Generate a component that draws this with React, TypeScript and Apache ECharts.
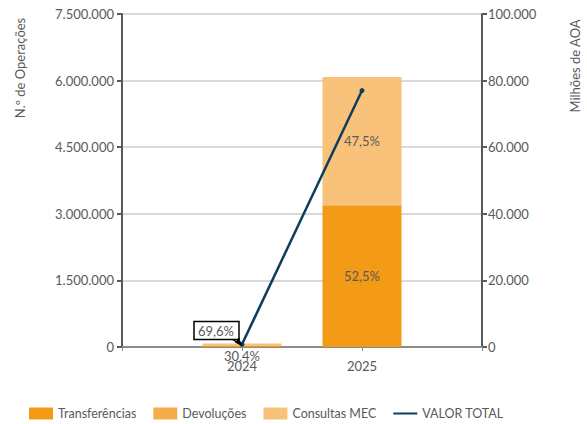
import React, { useEffect, useRef } from "react";
import * as echarts from "echarts";

const categories = ["", "2024", "2025", ""];
const transferencias = [null, 24000, 3190000, null];
const devolucoes = [null, 0, 0, null];
const consultasMEC = [null, 55000, 2890000, null];
const valorTotal = [null, 800, 77000, null];
const pctTransferencias = ["", "30,4%", "52,5%", ""];
const pctConsultas = ["", "69,6%", "47,5%", ""];

const FONT = "Lato";
const TXT = "#595959";

const fmt = (v: number) => String(Math.round(v)).replace(/\B(?=(\d{3})+(?!\d))/g, ".");

export default function App() {
  const ref = useRef<HTMLDivElement>(null);
  useEffect(() => {
    const chart = echarts.init(ref.current!, null, { renderer: "svg" });
    const option: any = {
      animation: false,
      textStyle: { fontFamily: FONT, color: TXT },
      grid: { left: 122, right: 105, top: 14, bottom: 77 },
      legend: {
        left: 24,
        top: 402,
        itemGap: 17,
        itemWidth: 24,
        itemHeight: 12,
        textStyle: { fontFamily: FONT, fontSize: 12.5, color: TXT },
        data: [
          { name: "Transferências", icon: "rect" },
          { name: "Devoluções", icon: "rect" },
          { name: "Consultas MEC", icon: "rect" },
          { name: "VALOR TOTAL", icon: "path://M0 0 H24 V2 H0 Z" },
        ],
      },
      xAxis: {
        type: "category",
        data: categories,
        boundaryGap: false,
        axisLine: { lineStyle: { color: "#8c8c8c", width: 2 } },
        axisTick: { show: true, length: 4, lineStyle: { color: "#8c8c8c" } },
        axisLabel: { fontFamily: FONT, fontSize: 13, color: TXT, margin: 12 },
        splitLine: { show: false },
      },
      yAxis: [
        {
          type: "value",
          min: 0,
          max: 7500000,
          interval: 1500000,
          axisLine: { show: true, lineStyle: { color: "#595959", width: 2 } },
          axisTick: { show: true, length: 5, lineStyle: { color: "#595959", width: 2 } },
          axisLabel: { fontFamily: FONT, fontSize: 13, color: TXT, margin: 8, formatter: fmt },
          splitLine: { lineStyle: { color: "#d9d9d9", width: 2 } },
        },
        {
          type: "value",
          min: 0,
          max: 100000,
          interval: 20000,
          position: "right",
          axisLine: { show: true, lineStyle: { color: "#595959", width: 2 } },
          axisTick: { show: true, length: 5, lineStyle: { color: "#595959", width: 2 } },
          axisLabel: { fontFamily: FONT, fontSize: 13, color: TXT, margin: 6, formatter: fmt },
          splitLine: { show: false },
        },
      ],
      series: [
        {
          name: "Transferências",
          type: "bar",
          stack: "a",
          barWidth: 79,
          data: transferencias,
          itemStyle: { color: "#F39A17" },
          label: {
            show: true,
            position: "inside",
            fontFamily: FONT,
            fontSize: 13,
            color: TXT,
            formatter: (p: any) => pctTransferencias[p.dataIndex],
          },
          labelLayout: (p: any) => (p.dataIndex === 1 ? { dy: 10 } : {}),
        },
        {
          name: "Devoluções",
          type: "bar",
          stack: "a",
          barWidth: 79,
          data: devolucoes,
          itemStyle: { color: "#F5AC4B" },
        },
        {
          name: "Consultas MEC",
          type: "bar",
          stack: "a",
          barWidth: 79,
          data: consultasMEC,
          itemStyle: { color: "#F9C27B" },
          label: {
            show: true,
            position: "inside",
            fontFamily: FONT,
            fontSize: 13,
            color: TXT,
            formatter: (p: any) => pctConsultas[p.dataIndex],
          },
          labelLayout: (p: any) =>
            p.dataIndex === 1 ? { dx: -26, dy: -14 } : {},
        },
        {
          name: "VALOR TOTAL",
          type: "line",
          yAxisIndex: 1,
          data: valorTotal,
          symbol: "circle",
          symbolSize: 5,
          showSymbol: true,
          lineStyle: { color: "#0E3D5C", width: 2.5 },
          itemStyle: { color: "#0E3D5C" },
          z: 5,
        },
      ],
    };
    chart.setOption(option);

    const barTop = chart.convertToPixel({ xAxisIndex: 0, yAxisIndex: 0 }, [1, transferencias[1]! + consultasMEC[1]!]);
    const bx = barTop[0];
    const by = barTop[1];
    chart.setOption({
      graphic: [
        {
          type: "rect",
          shape: { x: bx - 48, y: by - 22, width: 45, height: 18 },
          style: { fill: "none", stroke: "#000", lineWidth: 1.5 },
          z: 10,
        },
        {
          type: "line",
          shape: { x1: bx - 9, y1: by - 4, x2: bx - 2, y2: by + 1 },
          style: { stroke: "#000", lineWidth: 1.5 },
          z: 10,
        },
        {
          type: "polygon",
          shape: { points: [[bx, by + 2], [bx - 7, by - 1], [bx - 3, by - 6]] },
          style: { fill: "#000" },
          z: 10,
        },
        {
          type: "text",
          x: 20,
          y: 68,
          rotation: Math.PI / 2,
          style: {
            text: "N.º de Operações",
            fontFamily: FONT,
            fontSize: 13,
            fill: TXT,
            align: "center",
            verticalAlign: "middle",
          },
        },
        {
          type: "text",
          x: 575,
          y: 66,
          rotation: Math.PI / 2,
          style: {
            text: "Milhões de AOA",
            fontFamily: FONT,
            fontSize: 13,
            fill: TXT,
            align: "center",
            verticalAlign: "middle",
          },
        },
      ],
    });
    return () => chart.dispose();
  }, []);
  return <div ref={ref} style={{ width: 587, height: 424, position: "absolute", left: 0, top: 0 }} />;
}
